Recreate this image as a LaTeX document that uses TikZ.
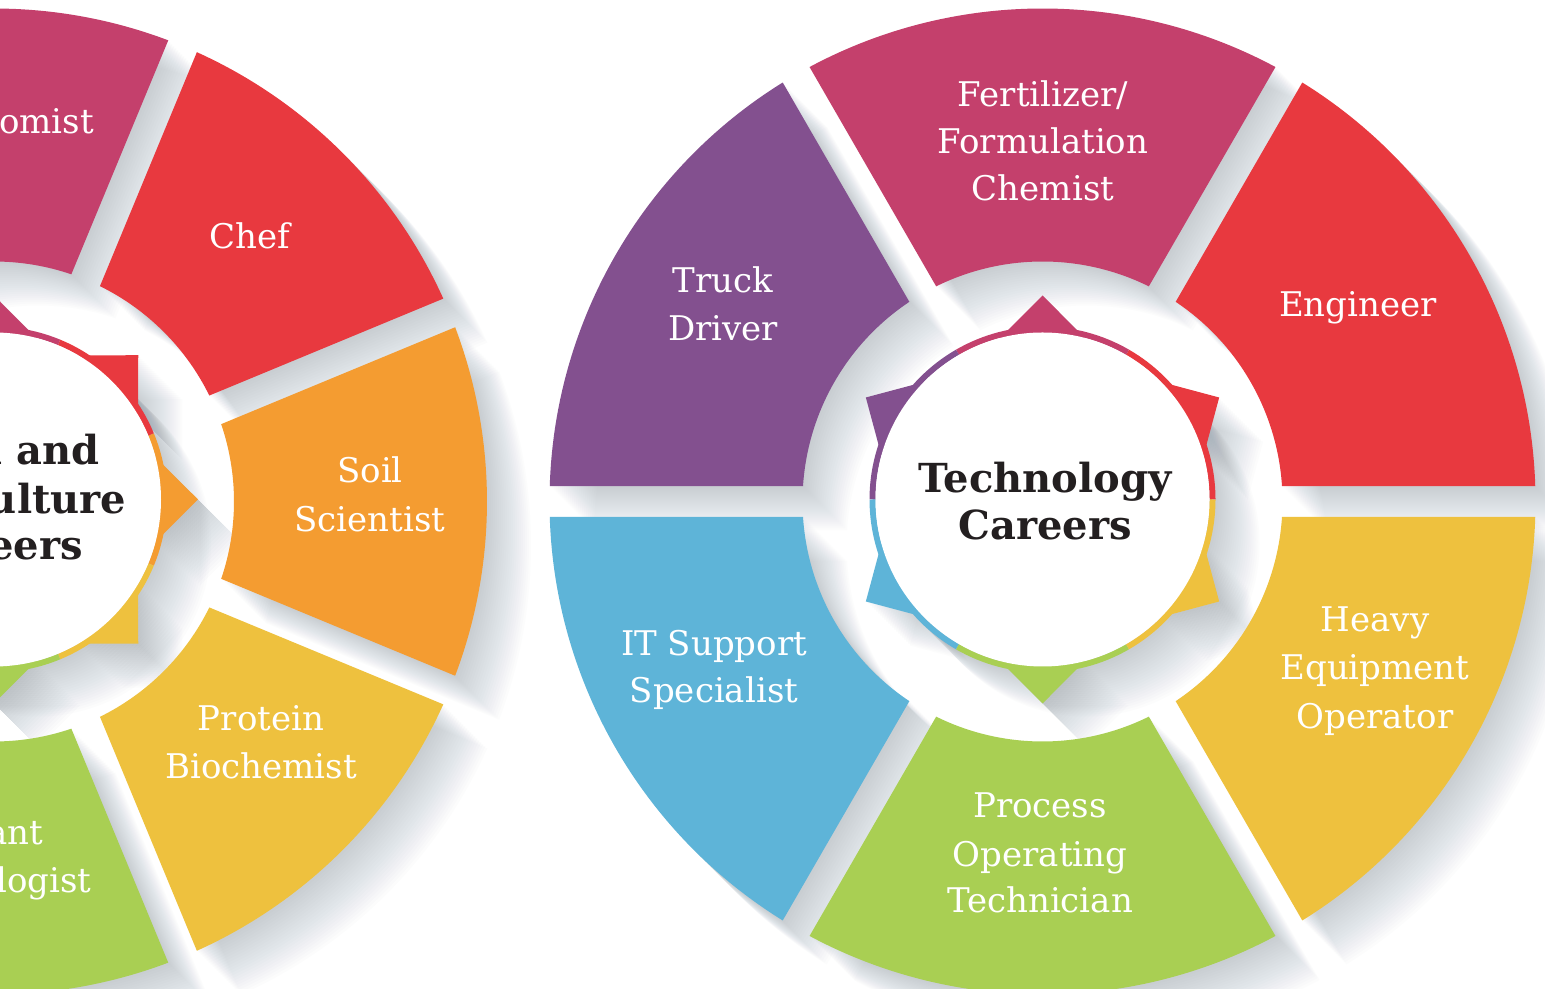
\documentclass[tikz,border=0pt]{standalone}
\usepackage{fontspec}
\setmainfont{DejaVu Serif}
\definecolor{cMag}{HTML}{C4406C}
\definecolor{cRed}{HTML}{E8393F}
\definecolor{cOra}{HTML}{F49C31}
\definecolor{cYel}{HTML}{EEC13E}
\definecolor{cGre}{HTML}{A9CF53}
\definecolor{cBlu}{HTML}{5EB4D8}
\definecolor{cPur}{HTML}{83508F}
\definecolor{cShd}{HTML}{7C8A96}
\definecolor{cTxt}{HTML}{231F20}
\tikzset{
  shadowfill/.style={fill=cShd, fill opacity=0.018},
  lbl/.style={text=white, inner sep=0pt, font=\fontsize{17}{20}\selectfont},
  ctr/.style={text=cTxt, inner sep=0pt, font=\fontsize{20}{22}\selectfont\bfseries},
}
\newcommand\wseg[3]{\fill[#3] (#1+3.7:240) -- (#1+1.8:493) arc[start angle=#1+1.8, end angle=#2-1.8, radius=493] -- (#2-3.7:240) arc[start angle=#2-3.7, end angle=#1+3.7, radius=240] -- cycle;}
\newcommand\wsegshd[2]{\foreach \k in {2,4,...,44}{\begin{scope}[shift={(\k,-\k)}]\wseg{#1}{#2}{shadowfill}\end{scope}}}
\newcommand\tooth[2]{\fill[#2] (#1:204) -- (#1+14.71:167) -- (#1-14.71:167) -- cycle;}
\newcommand\ringarc[3]{\draw[#3, line width=3pt] (#1:170) arc[start angle=#1, end angle=#2, radius=170];}
\begin{document}
\begin{tikzpicture}[x=0.5pt,y=0.5pt]
\useasboundingbox (0,0) rectangle (1545,989);
\clip (0,0) rectangle (1545,989);
\fill[white] (0,0) rectangle (1545,989);
% ---------- left wheel ----------
\begin{scope}[shift={(-6,487.5)}]
  \wsegshd{-22.5}{22.5}
  \wsegshd{22.5}{67.5}
  \wsegshd{67.5}{112.5}
  \wsegshd{-67.5}{-22.5}
  \wsegshd{-112.5}{-67.5}
  \begin{scope}[shift={(0,2)}]
    \foreach \k in {2,4,...,44}{
      \fill[shadowfill, shift={(\k,-\k)}] (0,0) circle (173);
      \foreach \a in {-90,-45,...,90}{
        \fill[shadowfill, shift={(\k,-\k)}] (\a:204) -- (\a+14.71:167) -- (\a-14.71:167) -- cycle;}
    }
  \end{scope}
  \wseg{-22.5}{22.5}{cOra}
  \wseg{22.5}{67.5}{cRed}
  \wseg{67.5}{112.5}{cMag}
  \wseg{-67.5}{-22.5}{cYel}
  \wseg{-112.5}{-67.5}{cGre}
  \begin{scope}[shift={(0,2)}]
    \tooth{0}{cOra}
    \tooth{45}{cRed}
    \tooth{90}{cMag}
    \tooth{-45}{cYel}
    \tooth{-90}{cGre}
    \ringarc{-22.5}{22.5}{cOra}
    \ringarc{22.5}{67.5}{cRed}
    \ringarc{67.5}{112.5}{cMag}
    \ringarc{-67.5}{-22.5}{cYel}
    \ringarc{-112.5}{-67.5}{cGre}
    \fill[white] (0,0) circle (167);
  \end{scope}
\end{scope}
% ---------- right wheel ----------
\begin{scope}[shift={(1042.5,487.5)}]
  \wsegshd{0}{60}
  \wsegshd{60}{120}
  \wsegshd{120}{180}
  \wsegshd{180}{240}
  \wsegshd{240}{300}
  \wsegshd{300}{360}
  \begin{scope}[shift={(0,2)}]
    \foreach \k in {2,4,...,44}{
      \fill[shadowfill, shift={(\k,-\k)}] (0,0) circle (173);
      \foreach \a in {30,90,...,330}{
        \fill[shadowfill, shift={(\k,-\k)}] (\a:204) -- (\a+14.71:167) -- (\a-14.71:167) -- cycle;}
    }
  \end{scope}
  \wseg{0}{60}{cRed}
  \wseg{60}{120}{cMag}
  \wseg{120}{180}{cPur}
  \wseg{180}{240}{cBlu}
  \wseg{240}{300}{cGre}
  \wseg{300}{360}{cYel}
  \begin{scope}[shift={(0,2)}]
    \tooth{30}{cRed}
    \tooth{90}{cMag}
    \tooth{150}{cPur}
    \tooth{210}{cBlu}
    \tooth{270}{cGre}
    \tooth{330}{cYel}
    \ringarc{0}{60}{cRed}
    \ringarc{60}{120}{cMag}
    \ringarc{120}{180}{cPur}
    \ringarc{180}{240}{cBlu}
    \ringarc{240}{300}{cGre}
    \ringarc{300}{360}{cYel}
    \fill[white] (0,0) circle (167);
  \end{scope}
\end{scope}
% ---------- left labels ----------
\node[lbl, anchor=base east] (agro) at (94.3,855) {Agronomist};
\node[lbl, anchor=base] (chef) at (249.5,740.7) {Chef};
\node[lbl, anchor=base] (soil1) at (370,506) {Soil};
\node[lbl, anchor=base] (soil2) at (370,457.3) {Scientist};
\node[lbl, anchor=base] (prot1) at (261,258.3) {Protein};
\node[lbl, anchor=base] (prot2) at (261,210.7) {Biochemist};
\node[lbl, anchor=base east] (plant1) at (43.3,144) {Plant};
\node[lbl, anchor=base east] (plant2) at (91.7,96.7) {Biologist};
\node[ctr, anchor=base east] (fa1) at (100,524) {Food and};
\node[ctr, anchor=base east] (fa2) at (126.7,475.7) {Agriculture};
\node[ctr, anchor=base east] (fa3) at (83.3,429) {Careers};
% ---------- right labels ----------
\node[lbl, anchor=base] (fert1) at (1043,882.3) {Fertilizer/};
\node[lbl, anchor=base] (fert2) at (1043,835.5) {Formulation};
\node[lbl, anchor=base] (fert3) at (1043,788.3) {Chemist};
\node[lbl, anchor=base] (truck1) at (723,696) {Truck};
\node[lbl, anchor=base] (truck2) at (723,648) {Driver};
\node[lbl, anchor=base] (eng) at (1358,672.3) {Engineer};
\node[lbl, anchor=base] (heavy1) at (1375,357.3) {Heavy};
\node[lbl, anchor=base] (heavy2) at (1375,309) {Equipment};
\node[lbl, anchor=base] (heavy3) at (1375,260.7) {Operator};
\node[lbl, anchor=base] (it1) at (714,333) {IT Support};
\node[lbl, anchor=base] (it2) at (714,286) {Specialist};
\node[lbl, anchor=base] (proc1) at (1040,171) {Process};
\node[lbl, anchor=base] (proc2) at (1040,122.5) {Operating};
\node[lbl, anchor=base] (proc3) at (1040,76) {Technician};
\node[ctr, anchor=base] (tc1) at (1045,496) {Technology};
\node[ctr, anchor=base] (tc2) at (1045,449) {Careers};
\end{tikzpicture}
\end{document}
